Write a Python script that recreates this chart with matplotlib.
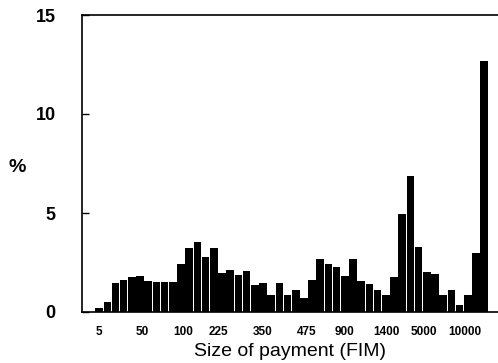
import matplotlib
matplotlib.use("Agg")
import matplotlib.pyplot as plt
import numpy as np

plt.rcParams['font.family'] = ['Liberation Sans', 'DejaVu Sans']

values = [0.2, 0.52, 1.48, 1.62, 1.75, 1.82, 1.57, 1.52, 1.52, 1.52,
          2.4, 3.22, 3.52, 2.76, 3.23, 1.95, 2.1, 1.85, 2.07, 1.35,
          1.45, 0.87, 1.46, 0.84, 1.13, 0.72, 1.62, 2.69, 2.42, 2.27,
          1.82, 2.66, 1.55, 1.41, 1.13, 0.87, 1.77, 4.93, 6.87, 3.3,
          2.02, 1.93, 0.86, 1.13, 0.35, 0.87, 2.98, 12.68]
tick_labels = ["5", "50", "100", "225", "350", "475", "900", "1400", "5000", "10000"]
tick_pos = [0, 5.3, 10.3, 14.6, 20.0, 25.3, 30.0, 35.1, 39.6, 44.7]
y_ticks = [0, 5, 10, 15]

fig = plt.figure(figsize=(4.98, 3.63), dpi=100)
ax = fig.add_axes([82/498, 1-312/363, 416/498, 297/363])

x = np.arange(len(values))
ax.bar(x, values, width=0.93, color='black', edgecolor='none')

ax.set_xlim(-2.09, 48.7)
ax.set_ylim(0, 15)

ax.set_xticks(tick_pos)
ax.set_xticklabels(tick_labels, fontsize=8.5, fontweight='bold')
ax.tick_params(axis='x', length=0, pad=10)
ax.set_yticks(y_ticks)
ax.set_yticklabels([str(v) for v in y_ticks], fontsize=13, fontweight='bold')
ax.tick_params(axis='y', direction='in', length=5, pad=19, width=1)

ax.spines['right'].set_visible(False)
for s in ['left', 'bottom', 'top']:
    ax.spines[s].set_linewidth(1.2)

ax.set_xlabel("Size of payment (FIM)", fontsize=14, labelpad=4)
fig.text(17/498, 1-167/363, "%", fontsize=14, fontweight='bold', ha='center', va='center')

fig.savefig("out.png", dpi=100)
